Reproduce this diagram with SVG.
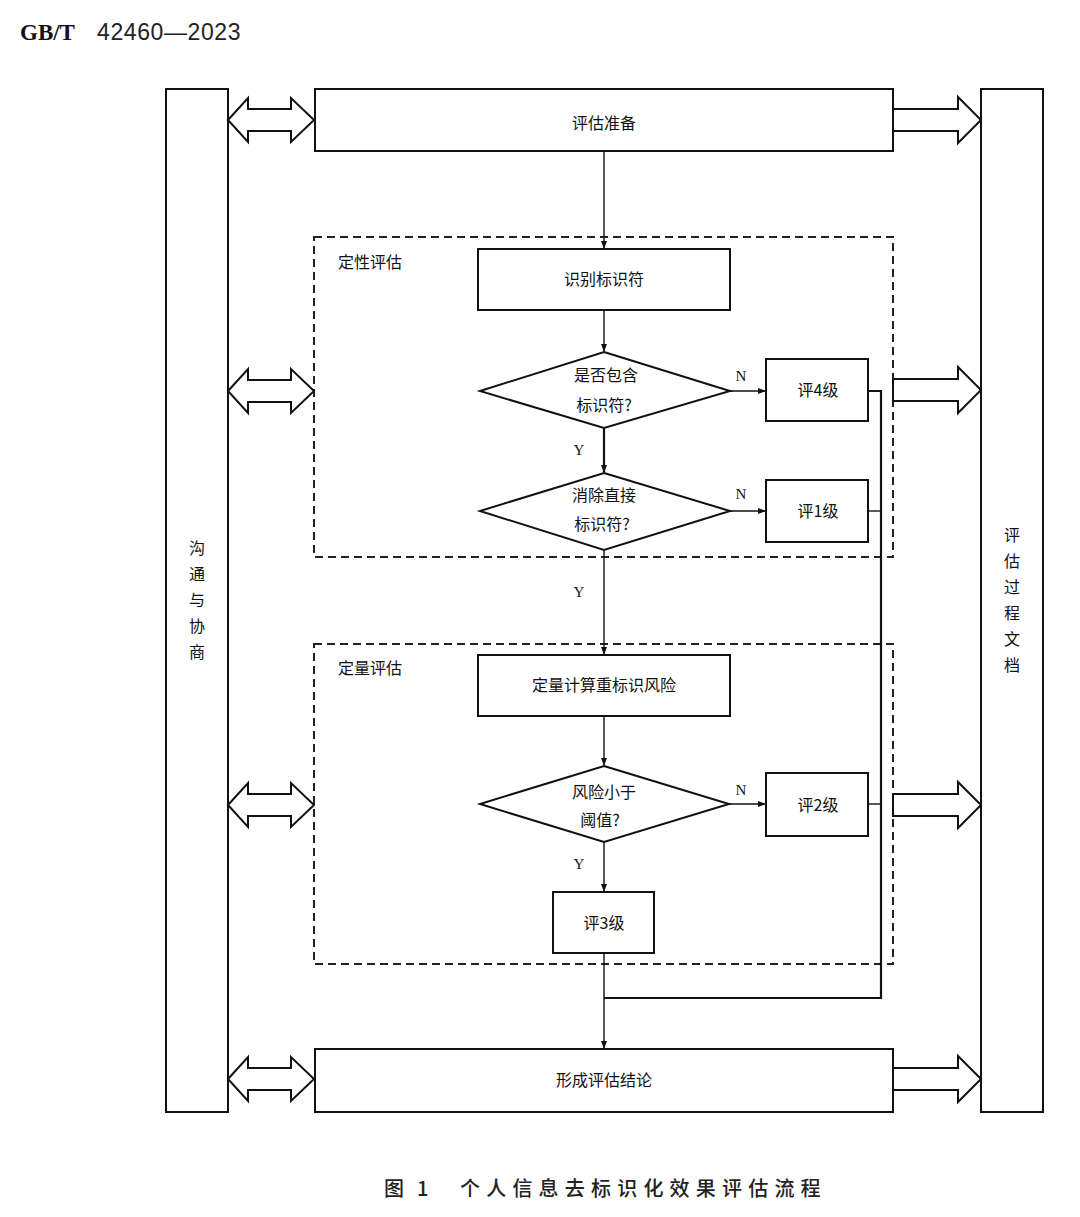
<svg xmlns="http://www.w3.org/2000/svg" width="1080" height="1217" viewBox="0 0 1080 1217">
<style>
.box{fill:#fff;stroke:#111;stroke-width:2}
.dash{fill:none;stroke:#222;stroke-width:2;stroke-dasharray:8,5}
.ln{fill:none;stroke:#111;stroke-width:1.4}
.bl{fill:none;stroke:#111;stroke-width:2.2}
.ar{fill:#fff;stroke:#111;stroke-width:2;stroke-linejoin:miter}
.t{font-family:"Noto Sans CJK SC","Liberation Serif",serif;font-size:16px;fill:#111;text-anchor:middle}
.l{font-family:"Liberation Serif",serif;font-size:15px;fill:#111;text-anchor:middle}
</style>
<defs>
<marker id="ah" markerWidth="8" markerHeight="8" refX="7" refY="4" orient="auto" markerUnits="userSpaceOnUse">
<path d="M0,1 L8,4 L0,7 Z" fill="#111"/>
</marker>
<path id="dbl" d="M0,0 L20,-22 L20,-11 L63,-11 L63,-22 L86,0 L63,22 L63,11 L20,11 L20,22 Z"/>
<path id="sgl" d="M0,-11 L65,-11 L65,-23 L88,0 L65,23 L65,11 L0,11 Z"/>
</defs>
<rect width="1080" height="1217" fill="#fff"/>
<text x="20" y="40" font-family="Liberation Serif,serif" font-weight="bold" font-size="23" fill="#111">GB/T</text>
<text x="97" y="40" font-family="Liberation Sans,sans-serif" font-size="23" letter-spacing="0.6" fill="#222">42460—2023</text>

<g id="left-panel">
<rect class="box" x="166" y="89" width="62" height="1023"/>
<text class="t" x="197" y="554">沟</text>
<text class="t" x="197" y="580">通</text>
<text class="t" x="197" y="606">与</text>
<text class="t" x="197" y="632">协</text>
<text class="t" x="197" y="658">商</text>
</g>
<g id="right-panel">
<rect class="box" x="981" y="89" width="62" height="1023"/>
<text class="t" x="1012" y="541">评</text>
<text class="t" x="1012" y="567">估</text>
<text class="t" x="1012" y="593">过</text>
<text class="t" x="1012" y="619">程</text>
<text class="t" x="1012" y="645">文</text>
<text class="t" x="1012" y="671">档</text>
</g>

<g id="group-qual">
<rect class="dash" x="314" y="237" width="579" height="320"/>
<text class="t" x="370" y="268">定性评估</text>
</g>
<g id="group-quant">
<rect class="dash" x="314" y="644" width="579" height="320"/>
<text class="t" x="370" y="674">定量评估</text>
</g>

<g id="connectors">
<line class="ln" x1="604" y1="151" x2="604" y2="248" marker-end="url(#ah)"/>
<line class="ln" x1="604" y1="310" x2="604" y2="351" marker-end="url(#ah)"/>
<line class="bl" x1="604" y1="428" x2="604" y2="472" marker-end="url(#ah)"/>
<line class="ln" x1="604" y1="550" x2="604" y2="654" marker-end="url(#ah)"/>
<line class="ln" x1="604" y1="716" x2="604" y2="765" marker-end="url(#ah)"/>
<line class="ln" x1="604" y1="842" x2="604" y2="891" marker-end="url(#ah)"/>
<line class="ln" x1="604" y1="953" x2="604" y2="1048" marker-end="url(#ah)"/>
<line class="ln" x1="730" y1="391" x2="765" y2="391" marker-end="url(#ah)"/>
<line class="ln" x1="730" y1="511" x2="765" y2="511" marker-end="url(#ah)"/>
<line class="ln" x1="729" y1="804" x2="765" y2="804" marker-end="url(#ah)"/>
<polyline class="bl" points="868,391 881,391 881,998 604,998"/>
<line class="ln" x1="868" y1="511" x2="881" y2="511"/>
<line class="ln" x1="868" y1="804" x2="881" y2="804"/>
<text class="l" x="741" y="381">N</text>
<text class="l" x="741" y="499">N</text>
<text class="l" x="741" y="795">N</text>
<text class="l" x="579" y="455">Y</text>
<text class="l" x="579" y="597">Y</text>
<text class="l" x="579" y="869">Y</text>
<use href="#dbl" x="228" y="120" class="ar"/>
<use href="#dbl" x="228" y="391" class="ar"/>
<use href="#dbl" x="228" y="805" class="ar"/>
<use href="#dbl" x="228" y="1079" class="ar"/>
<use href="#sgl" x="893" y="120" class="ar"/>
<use href="#sgl" x="893" y="390" class="ar"/>
<use href="#sgl" x="893" y="805" class="ar"/>
<use href="#sgl" x="893" y="1079" class="ar"/>
</g>

<g id="prep">
<rect class="box" x="315" y="89" width="578" height="62"/>
<text class="t" x="604" y="129">评估准备</text>
</g>
<g id="identify">
<rect class="box" x="478" y="249" width="252" height="61"/>
<text class="t" x="604" y="285">识别标识符</text>
</g>
<g id="d1">
<polygon class="box" points="604,352 730,391 604,428 480,391"/>
<text class="t" x="606" y="381">是否包含</text>
<text class="t" x="604" y="411">标识符?</text>
</g>
<g id="g4">
<rect class="box" x="766" y="359" width="102" height="62"/>
<text class="t" x="818" y="396">评4级</text>
</g>
<g id="d2">
<polygon class="box" points="604,473 730,511 604,550 480,511"/>
<text class="t" x="604" y="501">消除直接</text>
<text class="t" x="602" y="530">标识符?</text>
</g>
<g id="g1">
<rect class="box" x="766" y="480" width="102" height="62"/>
<text class="t" x="818" y="517">评1级</text>
</g>
<g id="calc">
<rect class="box" x="478" y="655" width="252" height="61"/>
<text class="t" x="604" y="691">定量计算重标识风险</text>
</g>
<g id="d3">
<polygon class="box" points="604,766 729,804 604,842 480,804"/>
<text class="t" x="604" y="798">风险小于</text>
<text class="t" x="600" y="826">阈值?</text>
</g>
<g id="g2">
<rect class="box" x="766" y="773" width="102" height="63"/>
<text class="t" x="818" y="811">评2级</text>
</g>
<g id="g3">
<rect class="box" x="553" y="892" width="101" height="61"/>
<text class="t" x="604" y="929">评3级</text>
</g>
<g id="conclusion">
<rect class="box" x="315" y="1049" width="578" height="63"/>
<text class="t" x="604" y="1086">形成评估结论</text>
</g>
<text x="384" y="1196" font-family="Noto Sans CJK SC,sans-serif" font-weight="500" font-size="20" fill="#222">图</text>
<text x="417" y="1196" font-family="Noto Sans CJK SC,sans-serif" font-weight="500" font-size="20" fill="#222">1</text>
<text x="460" y="1196" font-family="Noto Sans CJK SC,sans-serif" font-weight="500" font-size="20" letter-spacing="6.2" fill="#222">个人信息去标识化效果评估流程</text>
</svg>
